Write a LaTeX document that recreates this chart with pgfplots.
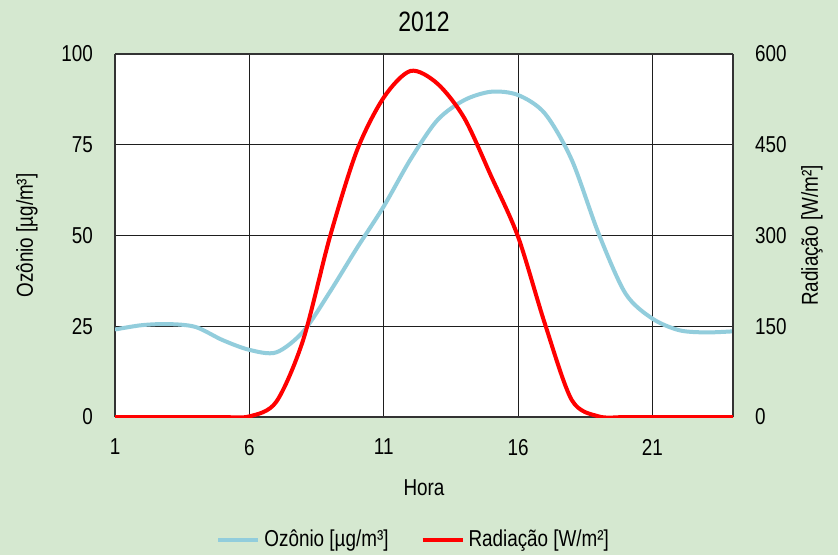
\documentclass[border=0pt]{standalone}
\usepackage{pgfplots}
\pgfplotsset{compat=1.18}
\usepackage{fontspec}
\setmainfont[FakeStretch=0.82]{Liberation Sans}
\definecolor{bg}{RGB}{213,232,208}
\definecolor{ozo}{RGB}{146,205,220}
\definecolor{gridc}{RGB}{30,30,30}
\begin{document}
\fontsize{11.5}{13}\selectfont
\begin{tikzpicture}
\fill[bg] (-57.5pt,-69pt) rectangle (361.5pt,208.5pt);
\begin{axis}[
  name=ax,
  at={(0,0)}, anchor=south west,
  scale only axis, width=309pt, height=181.5pt,
  xmin=1, xmax=24, ymin=0, ymax=100,
  xtick={1,6,11,16,21}, ytick={0,25,50,75,100},
  axis y line*=left,
  axis background/.style={fill=white},
  grid=major,
  major grid style={gridc, line width=0.5pt},
  axis line style={black!80, line width=0.9pt},
  major tick length=0pt,
  /pgf/number format/assume math mode=true,
  tick label style={font=\fontsize{11.5}{13}\selectfont},
  yticklabel style={xshift=-7pt},
  xticklabel style={yshift=-7pt},
  xlabel={Hora},
  xlabel style={at={(axis description cs:0.5,0)}, anchor=center, yshift=-35.5pt},
  ylabel={Ozônio [µg/m³]},
  ylabel style={at={(axis description cs:0,0.5)}, anchor=center, yshift=44pt},
  legend columns=2,
  legend style={at={(axis description cs:0.485,0)}, anchor=center, yshift=-61.5pt,
    draw=none, fill=none, font=\fontsize{11.5}{13}\selectfont,
    /tikz/every even column/.append style={column sep=14pt}},
  legend image code/.code={\draw[#1] (0pt,0pt) -- (20pt,0pt);},
]
\addplot[ozo, line width=2pt, smooth, tension=0.5] coordinates {
(1,24.1) (2,25.3) (3,25.6) (4,24.8) (5,21.2) (6,18.5) (7,17.8) (8,23.5)
(9,34.5) (10,46.5) (11,58) (12,71) (13,81.8) (14,87.3) (15,89.6) (16,88.7)
(17,83.6) (18,70.8) (19,50.5) (20,34) (21,27.1) (22,23.9) (23,23.3) (24,23.6)};
\addlegendentry{Ozônio [µg/m³]}
\addlegendimage{red, line width=2pt}
\addlegendentry{Radiação [W/m²]}
\end{axis}
\begin{axis}[
  at={(0,0)}, anchor=south west,
  scale only axis, width=309pt, height=181.5pt,
  xmin=1, xmax=24, ymin=0, ymax=600,
  ytick={0,150,300,450,600},
  axis y line*=right, axis x line=none,
  axis line style={black!80, line width=0.9pt},
  major tick length=0pt,
  /pgf/number format/assume math mode=true,
  tick label style={font=\fontsize{11.5}{13}\selectfont},
  yticklabel style={xshift=7pt},
  ylabel={Radiação [W/m²]},
  ylabel style={at={(axis description cs:1,0.5)}, anchor=center, yshift=-39.5pt},
]
\addplot[red, line width=2pt, smooth, tension=0.5] coordinates {
(1,0) (2,0) (3,0) (4,0) (5,0) (6,1) (7,25) (8,127) (9,298) (10,440)
(11,528) (12,572) (13,551) (14,494) (15,398) (16,298) (17,154) (18,28)
(19,1) (20,0) (21,0) (22,0) (23,0) (24,0)};
\end{axis}
\node[anchor=center, font=\fontsize{14}{16}\selectfont] at ([yshift=16pt]ax.north) {2012};
\pgfresetboundingbox
\path[use as bounding box] (-57.5pt,-69pt) rectangle (361.5pt,208.5pt);
\end{tikzpicture}
\end{document}
